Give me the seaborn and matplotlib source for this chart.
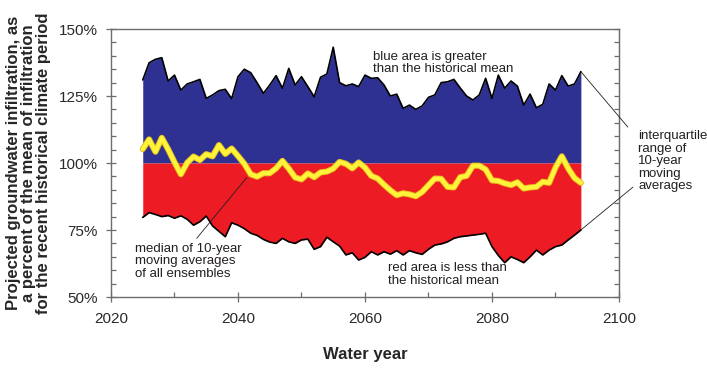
import pandas as pd
import matplotlib
matplotlib.use('Agg')
import matplotlib.pyplot as plt
from matplotlib.ticker import MultipleLocator, FuncFormatter
import seaborn as sns

# Water years of the 10-year moving averages
years = list(range(2025, 2095))

# 75th percentile of moving averages (% of historical mean)
upper_quartile = [131.0, 137.4, 138.7, 139.3, 130.6, 132.8, 127.2, 129.5, 130.3, 131.2,
                  124.1, 125.4, 127.0, 127.5, 124.0, 132.2, 135.0, 133.7, 130.0, 126.0,
                  129.1, 132.6, 127.9, 135.3, 129.1, 132.2, 128.5, 124.7, 132.0, 133.2,
                  143.2, 130.0, 128.8, 129.5, 128.5, 132.8, 131.6, 131.8, 129.1, 125.0,
                  125.7, 120.4, 121.6, 120.0, 121.3, 124.5, 125.4, 130.0, 130.3, 131.2,
                  128.0, 125.0, 123.5, 125.4, 131.6, 124.1, 132.8, 127.9, 130.6, 128.7,
                  121.6, 125.7, 120.6, 121.9, 129.5, 127.2, 132.6, 128.7, 129.5, 134.1]

# 25th percentile of moving averages
lower_quartile = [79.7, 81.5, 80.8, 80.0, 80.4, 79.4, 80.3, 79.0, 76.8, 78.1,
                  80.2, 76.5, 74.5, 72.5, 77.7, 76.8, 75.5, 73.8, 73.0, 71.5,
                  70.5, 70.0, 71.9, 70.6, 70.0, 71.3, 71.6, 67.8, 68.8, 72.3,
                  70.6, 69.0, 65.7, 66.5, 63.8, 64.8, 66.9, 65.7, 66.9, 66.0,
                  67.3, 65.7, 67.3, 66.5, 65.9, 67.8, 69.4, 69.8, 70.6, 71.9,
                  72.5, 72.8, 73.1, 73.4, 73.8, 68.8, 65.5, 62.8, 65.0, 64.0,
                  62.8, 65.0, 67.5, 65.7, 67.5, 68.8, 69.4, 71.3, 73.1, 75.0]

# median of all ensembles
median = [105.2, 108.8, 104.2, 109.4, 105.1, 100.3, 95.8, 100.1, 102.4, 101.1,
          103.3, 102.5, 106.7, 103.4, 105.4, 102.6, 99.7, 95.8, 94.9, 96.2,
          96.2, 98.0, 100.8, 97.9, 94.6, 93.9, 96.1, 94.7, 96.5, 96.8,
          97.9, 100.4, 99.7, 98.0, 100.2, 98.3, 95.2, 94.2, 91.9, 89.8,
          88.0, 88.7, 88.3, 87.6, 89.2, 91.7, 94.2, 94.1, 91.1, 90.9,
          94.7, 95.2, 99.0, 99.0, 97.6, 93.5, 93.3, 92.4, 91.8, 92.8,
          90.5, 90.9, 91.1, 93.0, 92.6, 98.3, 102.5, 98.0, 94.4, 92.6]

historical_mean = 100

df = pd.DataFrame({'Year': years, 'Upper': upper_quartile,
                   'Lower': lower_quartile, 'Median': median})

sns.set_style('ticks')
plt.rcParams['font.family'] = ['Liberation Sans', 'DejaVu Sans']

fig = plt.figure(figsize=(7.07, 3.72), dpi=100)
ax = fig.add_axes([0.157, 0.2016, 0.7185, 0.7204])

# Shaded areas above / below the historical mean
ax.fill_between(df['Year'], historical_mean, df['Upper'], color='#2E3192', lw=0)
ax.fill_between(df['Year'], df['Lower'], historical_mean, color='#ED1C24', lw=0)
sns.lineplot(data=df, x='Year', y='Upper', color='black', lw=1.2, ax=ax)
sns.lineplot(data=df, x='Year', y='Lower', color='black', lw=1.2, ax=ax)

# Median line with a thin gold edge
sns.lineplot(data=df, x='Year', y='Median', color='#E6C21E', lw=4.4, ax=ax,
             solid_joinstyle='round', solid_capstyle='round')
sns.lineplot(data=df, x='Year', y='Median', color='#FFF33B', lw=3.0, ax=ax,
             solid_joinstyle='round', solid_capstyle='round')

ax.set_xlim(2020, 2100)
ax.set_ylim(50, 150)
ax.xaxis.set_major_locator(MultipleLocator(20))
ax.xaxis.set_minor_locator(MultipleLocator(10))
ax.yaxis.set_major_locator(MultipleLocator(25))
ax.yaxis.set_minor_locator(MultipleLocator(5))
ax.yaxis.set_major_formatter(FuncFormatter(lambda v, p: f'{v:.0f}%'))

spine_col = '#6d6d6d'
for s in ax.spines.values():
    s.set_color(spine_col)
    s.set_linewidth(1.0)
ax.tick_params(which='major', direction='inout', length=7, width=0.9,
               color=spine_col, labelsize=11, labelcolor='#2a2a2a')
ax.tick_params(axis='x', which='major', pad=7)
ax.tick_params(axis='y', which='major', pad=6)
ax.tick_params(which='minor', direction='in', length=3.5, width=0.9, color=spine_col)

sec = ax.secondary_yaxis('right')
sec.yaxis.set_major_locator(MultipleLocator(5))
sec.tick_params(direction='in', length=3.5, width=0.9, color=spine_col, labelright=False)
sec.spines['right'].set_color(spine_col)

ax.set_xlabel('Water year', fontsize=12, fontweight='bold', va='center')
ax.xaxis.set_label_coords(0.5, -0.216)
ax.set_ylabel('Projected groundwater infiltration, as\n'
              'a percent of the mean of infiltration\n'
              'for the recent historical climate period',
              fontsize=12, fontweight='bold', va='center', linespacing=1.0)
ax.yaxis.set_label_coords(-0.163, 0.5)

# Annotations
txt = dict(fontsize=9.5, color='#231F20', linespacing=1.05)
line = dict(arrowstyle='-', lw=0.6, color='#231F20', shrinkA=0, shrinkB=0)
ax.text(2061.3, 137.3, 'blue area is greater\nthan the historical mean',
        ha='left', va='center', **txt)
ax.text(2063.6, 58.4, 'red area is less than\nthe historical mean',
        ha='left', va='center', **txt)
ax.text(2023.8, 63.4, 'median of 10-year\nmoving averages\nof all ensembles',
        ha='left', va='center', **txt)
ax.annotate('', xy=(2041.4, 94.6), xytext=(2033.5, 71.9), arrowprops=line)
ax.text(2103, 100.7, 'interquartile\nrange of\n10-year\nmoving\naverages',
        ha='left', va='center', clip_on=False, **txt)
ax.annotate('', xy=(years[-1], upper_quartile[-1]), xytext=(2101.4, 113.4),
            arrowprops=line, annotation_clip=False)
ax.annotate('', xy=(years[-1], lower_quartile[-1]), xytext=(2102.2, 91.0),
            arrowprops=line, annotation_clip=False)

fig.savefig('out.png', dpi=100)
